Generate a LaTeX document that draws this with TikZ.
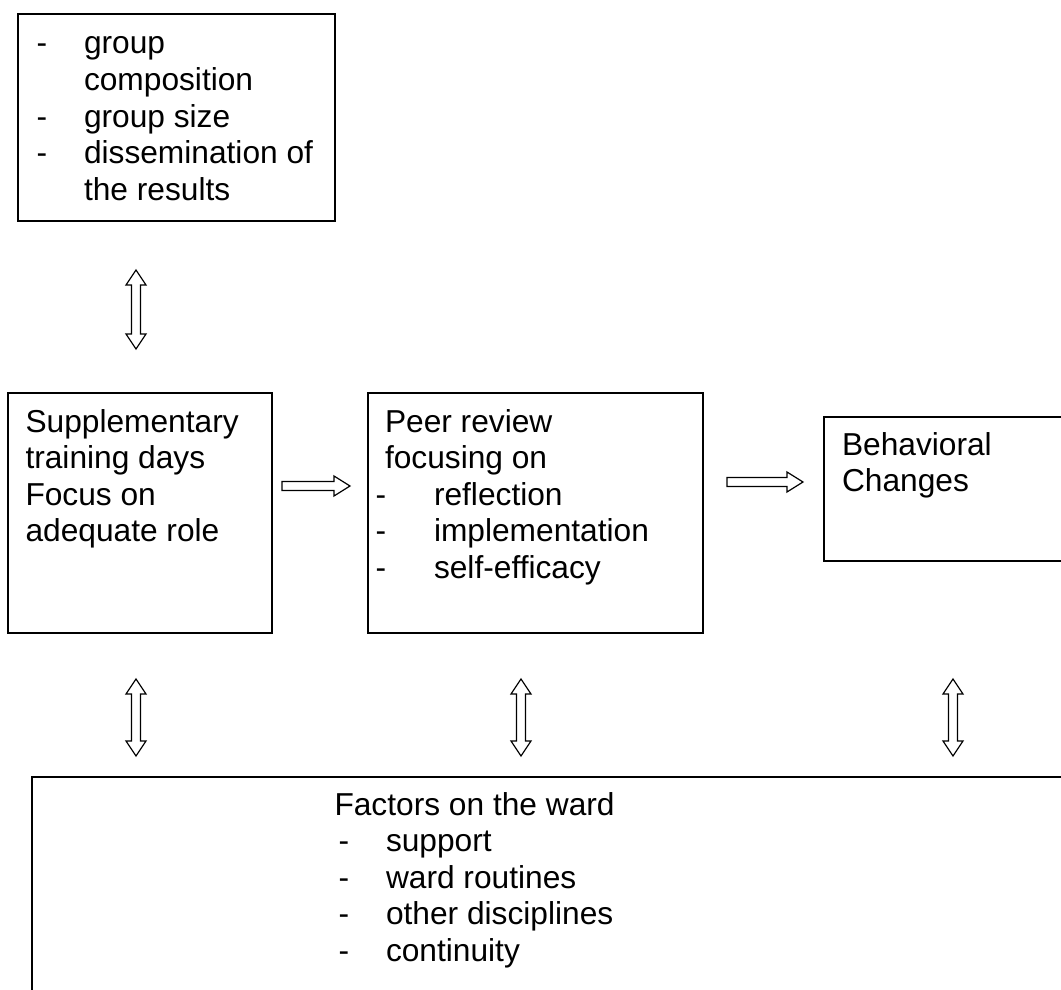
\documentclass[tikz,border=0pt]{standalone}
\usepackage{fontspec}
\setmainfont{Liberation Sans}
\usetikzlibrary{calc}
\tikzset{
  box/.style={draw=black, line width=1.8pt, anchor=north west, inner sep=0pt, fill=none},
  txt/.style={anchor=base west, inner sep=0pt, outer sep=0pt, font=\fontsize{31.7}{36.5}\selectfont, text=black},
  blk/.style={draw=black, line width=1.2pt, fill=white, line join=miter}
}
\newcommand\hblockarrow[2]{%
  \draw[blk] let \p1=(#1), \p2=(#2) in
    (\x1,\y1+4.5pt) -- (\x2-16pt,\y1+4.5pt) -- (\x2-16pt,\y1+10pt) -- (\x2,\y1)
    -- (\x2-16pt,\y1-10pt) -- (\x2-16pt,\y1-4.5pt) -- (\x1,\y1-4.5pt) -- cycle;}
\newcommand\vblockarrow[2]{%
  \draw[blk] let \p1=(#1), \p2=(#2) in
    (\x1,\y1) -- (\x1+10pt,\y1-15pt) -- (\x1+4.5pt,\y1-15pt) -- (\x1+4.5pt,\y2+15pt)
    -- (\x1+10pt,\y2+15pt) -- (\x1,\y2) -- (\x1-10pt,\y2+15pt) -- (\x1-4.5pt,\y2+15pt)
    -- (\x1-4.5pt,\y1-15pt) -- (\x1-10pt,\y1-15pt) -- cycle;}
\begin{document}
\begin{tikzpicture}[x=1pt,y=-1pt]
\useasboundingbox (0,0) rectangle (1061,990);
\fill[white] (0,0) rectangle (1061,990);

% boxes
\node[box, minimum width=317pt, minimum height=207pt] (grp) at (17,13) {};
\node[box, minimum width=264pt, minimum height=240pt] (sup) at (7,392) {};
\node[box, minimum width=335pt, minimum height=240pt] (peer) at (367,392) {};
\node[box, minimum width=250pt, minimum height=144pt] (beh) at (823,416) {};
\node[box, minimum width=1045pt, minimum height=230pt] (fac) at (31,776) {};

% top box text
\node[txt] (g1d) at (36.5,54) {-};
\node[txt] (g1) at (84,54) {group};
\node[txt] (g2) at (84,90.5) {composition};
\node[txt] (g3d) at (36.5,127) {-};
\node[txt] (g3) at (84,127) {group size};
\node[txt] (g4d) at (36.5,163.5) {-};
\node[txt] (g4) at (84,163.5) {dissemination of};
\node[txt] (g5) at (84,200) {the results};

% supplementary box text
\node[txt] (s1) at (25.5,432) {Supplementary};
\node[txt] (s2) at (25.5,468.5) {training days};
\node[txt] (s3) at (25.5,505) {Focus on};
\node[txt] (s4) at (25.5,541.5) {adequate role};

% peer review box text
\node[txt] (p1) at (385,432) {Peer review};
\node[txt] (p2) at (385,468.5) {focusing on};
\node[txt] (p3d) at (375.6,505) {-};
\node[txt] (p3) at (434,505) {reflection};
\node[txt] (p4d) at (375.6,541.5) {-};
\node[txt] (p4) at (434,541.5) {implementation};
\node[txt] (p5d) at (375.6,578) {-};
\node[txt] (p5) at (434,578) {self-efficacy};

% behavioral box text
\node[txt] (b1) at (842,455) {Behavioral};
\node[txt] (b2) at (842,491.5) {Changes};

% factors box text
\node[txt] (f1) at (334.5,815) {Factors on the ward};
\node[txt] (f2d) at (338.6,851.5) {-};
\node[txt] (f2) at (386,851.5) {support};
\node[txt] (f3d) at (338.6,888) {-};
\node[txt] (f3) at (386,888) {ward routines};
\node[txt] (f4d) at (338.6,924.5) {-};
\node[txt] (f4) at (386,924.5) {other disciplines};
\node[txt] (f5d) at (338.6,961) {-};
\node[txt] (f5) at (386,961) {continuity};

% arrow end coordinates
\coordinate (a0t) at (136,270);
\coordinate (a0b) at (136,349);
\coordinate (a1t) at (136,679);
\coordinate (a1b) at (136,756);
\coordinate (a2t) at (521,679);
\coordinate (a2b) at (521,756);
\coordinate (a3t) at (953,679);
\coordinate (a3b) at (953,756);
\coordinate (h1s) at (282,486);
\coordinate (h1e) at (350,486);
\coordinate (h2s) at (727,482);
\coordinate (h2e) at (803,482);

\vblockarrow{a0t}{a0b}
\vblockarrow{a1t}{a1b}
\vblockarrow{a2t}{a2b}
\vblockarrow{a3t}{a3b}
\hblockarrow{h1s}{h1e}
\hblockarrow{h2s}{h2e}
\end{tikzpicture}
\end{document}
